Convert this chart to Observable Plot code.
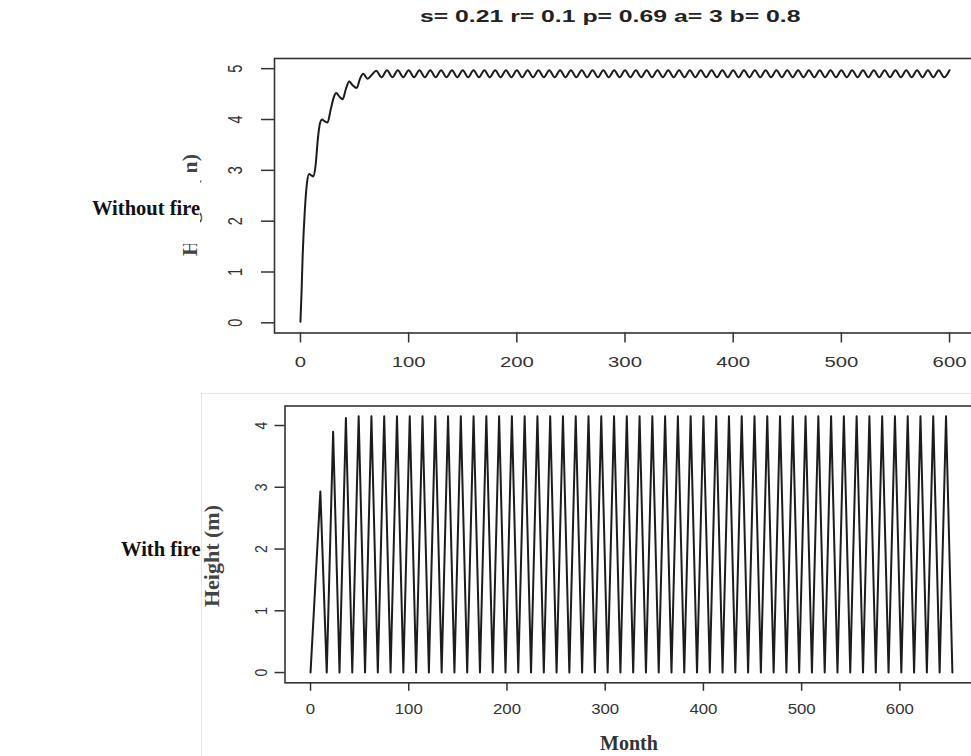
<!DOCTYPE html>
<html><head><meta charset="utf-8">
<script src="https://cdn.jsdelivr.net/npm/d3@7"></script>
<script src="https://cdn.jsdelivr.net/npm/@observablehq/plot@0.6"></script>
<style>
html,body{margin:0;padding:0;background:#fff;}
body{width:971px;height:756px;overflow:hidden;position:relative;}
.abs{position:absolute;white-space:nowrap;line-height:1;}
.panel{width:980px;}
.panel svg{max-width:none !important;}
#title{font-family:"Liberation Sans",Arial,sans-serif;font-weight:bold;font-size:16.5px;color:#222;transform-origin:0 50%;transform:scaleX(1.5);left:420px;top:8px;}
.serif{font-family:"Liberation Serif","Times New Roman",serif;font-weight:bold;color:#111;}
#wof{left:70px;top:172px;width:130px;height:72px;background:#fff;font-size:20.5px;display:flex;align-items:center;justify-content:flex-end;}
#wf{left:121px;top:539px;font-size:20.5px;}
#month{left:600px;top:733px;font-size:20px;color:#333;}
.ylab{font-size:22px;color:#444;transform-origin:50% 50%;transform:translate(-50%,-50%) rotate(-90deg);}
#frameB{left:201px;top:393px;width:800px;height:400px;border:1px solid #e6e6e6;}
</style></head><body>
<div id="frameB" class="abs"></div>
<div id="top" class="abs panel" style="left:0;top:0"></div>
<div id="bottom" class="abs panel" style="left:0;top:380px"></div>
<div id="title" class="abs">s= 0.21 r= 0.1 p= 0.69 a= 3 b= 0.8</div>
<div class="abs serif ylab" style="left:190px;top:205px;">Height (m)</div>
<div id="wof" class="abs serif">Without fire</div>
<div id="wf" class="abs serif">With fire</div>
<div class="abs serif ylab" style="left:212px;top:556px;">Height (m)</div>
<div id="month" class="abs serif">Month</div>
<script>
// ---- Top panel: without fire ----
const topXTicks = [0, 100, 200, 300, 400, 500, 600];
const topYTicks = [0, 1, 2, 3, 4, 5];
const noFireMonth = [0, 1, 2, 4, 6, 8, 10, 12, 14, 16, 18, 20, 22, 25, 28, 31, 33, 36, 39, 42, 45, 48, 52, 55, 58, 62, 66, 70,
  75, 80, 85, 90, 95, 100, 105, 110, 115, 120, 125, 130, 135, 140, 145, 150, 155, 160, 165, 170, 175, 180, 185, 190, 195, 200,
  205, 210, 215, 220, 225, 230, 235, 240, 245, 250, 255, 260, 265, 270, 275, 280, 285, 290, 295, 300, 305, 310, 315, 320, 325,
  330, 335, 340, 345, 350, 355, 360, 365, 370, 375, 380, 385, 390, 395, 400, 405, 410, 415, 420, 425, 430, 435, 440, 445, 450,
  455, 460, 465, 470, 475, 480, 485, 490, 495, 500, 505, 510, 515, 520, 525, 530, 535, 540, 545, 550, 555, 560, 565, 570, 575,
  580, 585, 590, 595, 600];
const noFireHeight = [0.02, 0.6, 1.3, 2.2, 2.75, 2.93, 2.9, 2.88, 3.1, 3.6, 3.92, 4.0, 3.97, 3.94, 4.2, 4.45, 4.52, 4.45, 4.4, 4.6, 4.75, 4.68, 4.62, 4.8, 4.9, 4.8, 4.88, 4.96,
  4.83, 4.97, 4.83, 4.97, 4.83, 4.97, 4.83, 4.97, 4.83, 4.97, 4.83, 4.97, 4.83, 4.97, 4.83, 4.97, 4.83, 4.97, 4.83, 4.97, 4.83, 4.97, 4.83, 4.97, 4.83, 4.97,
  4.83, 4.97, 4.83, 4.97, 4.83, 4.97, 4.83, 4.97, 4.83, 4.97, 4.83, 4.97, 4.83, 4.97, 4.83, 4.97, 4.83, 4.97, 4.83, 4.97, 4.83, 4.97, 4.83, 4.97, 4.83,
  4.97, 4.83, 4.97, 4.83, 4.97, 4.83, 4.97, 4.83, 4.97, 4.83, 4.97, 4.83, 4.97, 4.83, 4.97, 4.83, 4.97, 4.83, 4.97, 4.83, 4.97, 4.83, 4.97, 4.83, 4.97,
  4.83, 4.97, 4.83, 4.97, 4.83, 4.97, 4.83, 4.97, 4.83, 4.97, 4.83, 4.97, 4.83, 4.97, 4.83, 4.97, 4.83, 4.97, 4.83, 4.97, 4.83, 4.97, 4.83, 4.97, 4.83,
  4.97, 4.83, 4.97, 4.83, 4.97];

// ---- Bottom panel: with fire ----
const botXTicks = [0, 100, 200, 300, 400, 500, 600];
const botYTicks = [0, 1, 2, 3, 4];
const fireMonth = [0, 10, 16.5, 23, 29.5, 36, 42.5, 49, 55.5, 62, 68.5, 75, 81.5, 88, 94.5, 101, 107.5, 114, 120.5, 127, 133.5,
  140, 146.5, 153, 159.5, 166, 172.5, 179, 185.5, 192, 198.5, 205, 211.5, 218, 224.5, 231, 237.5, 244, 250.5, 257, 263.5,
  270, 276.5, 283, 289.5, 296, 302.5, 309, 315.5, 322, 328.5, 335, 341.5, 348, 354.5, 361, 367.5, 374, 380.5, 387, 393.5,
  400, 406.5, 413, 419.5, 426, 432.5, 439, 445.5, 452, 458.5, 465, 471.5, 478, 484.5, 491, 497.5, 504, 510.5, 517, 523.5,
  530, 536.5, 543, 549.5, 556, 562.5, 569, 575.5, 582, 588.5, 595, 601.5, 608, 614.5, 621, 627.5, 634, 640.5, 647, 653.5];
const fireHeight = [0, 2.93, 0, 3.9, 0, 4.12, 0, 4.15, 0, 4.15, 0, 4.15, 0, 4.15, 0, 4.15, 0, 4.15, 0, 4.15, 0,
  4.15, 0, 4.15, 0, 4.15, 0, 4.15, 0, 4.15, 0, 4.15, 0, 4.15, 0, 4.15, 0, 4.15, 0, 4.15, 0,
  4.15, 0, 4.15, 0, 4.15, 0, 4.15, 0, 4.15, 0, 4.15, 0, 4.15, 0, 4.15, 0, 4.15, 0, 4.15, 0,
  4.15, 0, 4.15, 0, 4.15, 0, 4.15, 0, 4.15, 0, 4.15, 0, 4.15, 0, 4.15, 0, 4.15, 0, 4.15, 0,
  4.15, 0, 4.15, 0, 4.15, 0, 4.15, 0, 4.15, 0, 4.15, 0, 4.15, 0, 4.15, 0, 4.15, 0, 4.15, 0];

const noFire = noFireMonth.map((m, i) => ({month: m, height: noFireHeight[i]}));
const fire = fireMonth.map((m, i) => ({month: m, height: fireHeight[i]}));

const ink = "#1c1c1c";
const labelFont = "'Liberation Sans', Arial, sans-serif";
const intFmt = d => String(d);

function stretchText(svg, sx) {
  d3.select(svg).selectAll("text").each(function() {
    const t = this.getAttribute("transform");
    if (t) this.setAttribute("transform", t.replace(/(translate\([^)]*\))/, `$1 scale(${sx},1)`));
  });
}

const topChart = Plot.plot({
  width: 980, height: 380,
  marginLeft: 274, marginRight: 5, marginTop: 58, marginBottom: 47.5,
  style: {fontFamily: labelFont, color: "#333", background: "transparent", overflow: "visible", maxWidth: "none"},
  x: {domain: [-24, 624], label: null},
  y: {domain: [-0.2, 5.2], label: null},
  marks: [
    Plot.frame({stroke: "#333", strokeWidth: 1.6}),
    Plot.axisX(topXTicks, {tickSize: 10, tickPadding: 14, tickFormat: intFmt, fontSize: 14.5, stroke: "#333", strokeWidth: 1.5, label: null}),
    Plot.axisY(topYTicks, {tickSize: 13, tickPadding: 20, tickRotate: -90, tickFormat: intFmt, fontSize: 14.5, stroke: "#333", strokeWidth: 1.5, label: null}),
    Plot.line(noFire, {x: "month", y: "height", curve: "monotone-x", stroke: ink, strokeWidth: 2})
  ]
});
stretchText(topChart, 1.4);
document.getElementById("top").appendChild(topChart);

const botChart = Plot.plot({
  width: 980, height: 376,
  marginLeft: 284.5, marginRight: 6, marginTop: 25.5, marginBottom: 73.7,
  style: {fontFamily: labelFont, color: "#333", background: "transparent", overflow: "visible", maxWidth: "none"},
  x: {domain: [-26, 676], label: null},
  y: {domain: [-0.166, 4.316], label: null},
  marks: [
    Plot.frame({stroke: "#333", strokeWidth: 1.6}),
    Plot.axisX(botXTicks, {tickSize: 8.5, tickPadding: 12.6, tickFormat: intFmt, fontSize: 14, stroke: "#333", strokeWidth: 1.5, label: null}),
    Plot.axisY(botYTicks, {tickSize: 10, tickPadding: 8.5, tickRotate: -90, tickFormat: intFmt, fontSize: 14, stroke: "#333", strokeWidth: 1.5, label: null}),
    Plot.line(fire, {x: "month", y: "height", curve: "linear", stroke: ink, strokeWidth: 2})
  ]
});
stretchText(botChart, 1.2);
document.getElementById("bottom").appendChild(botChart);
</script>
</body></html>
